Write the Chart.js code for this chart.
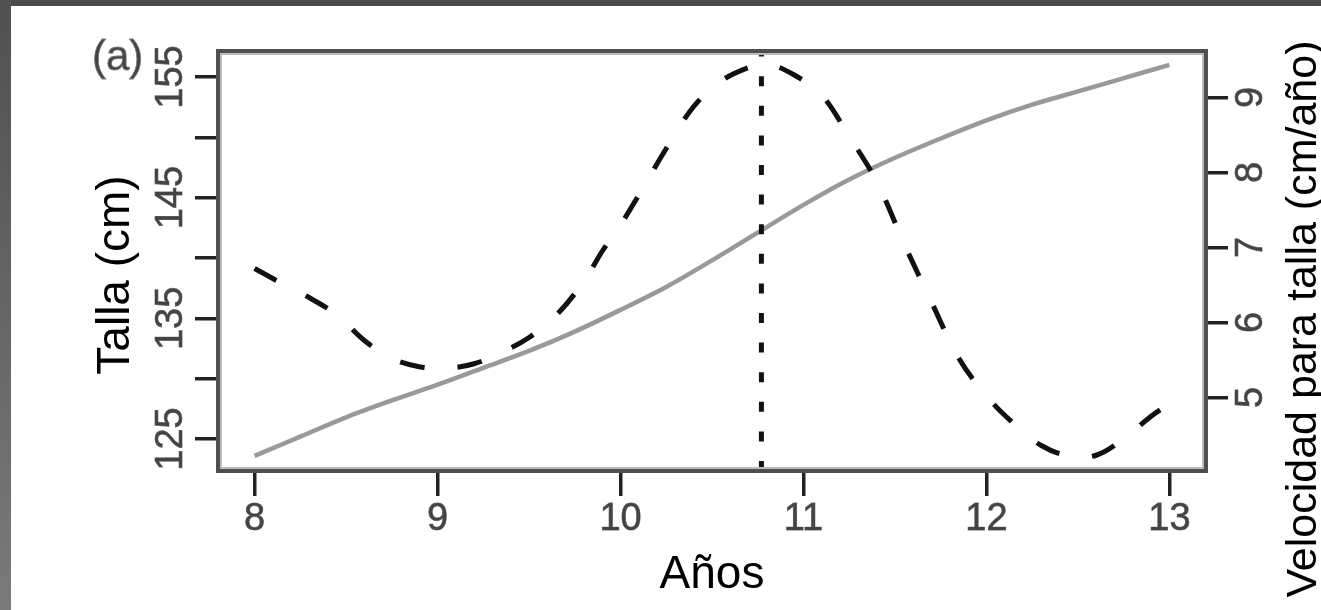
<!DOCTYPE html>
<html><head><meta charset="utf-8">
<script src="https://cdn.jsdelivr.net/npm/chart.js@4.4.1/dist/chart.umd.min.js"></script>
<style>
html,body{margin:0;padding:0;background:#fff;overflow:hidden}
canvas{display:block}
</style></head><body>
<canvas id="c" width="1321" height="610"></canvas>
<script>
// ---- data ----
const ageTicks = [8, 9, 10, 11, 12, 13];
const tallaTicks = [125, 130, 135, 140, 145, 150, 155];
const tallaTickLabels = ['125', '', '135', '', '145', '', '155'];
const velTicks = [5, 6, 7, 8, 9];
const velTickLabels = ['5', '6', '7', '8', '9'];

const tallaAge = [8.0, 8.25, 8.5, 8.75, 9.0, 9.25, 9.5, 9.75, 10.0, 10.25, 10.5, 10.75, 11.0, 11.25, 11.5, 11.75, 12.0, 12.25, 12.5, 12.75, 13.0];
const tallaCm  = [123.6, 125.2, 126.8, 128.2, 129.5, 130.9, 132.3, 133.9, 135.7, 137.6, 139.8, 142.1, 144.4, 146.5, 148.3, 149.9, 151.4, 152.7, 153.8, 154.9, 156.0];

const velAge = [8.0, 8.15, 8.3, 8.45, 8.6, 8.75, 8.9, 9.05, 9.2, 9.35, 9.5, 9.65, 9.8, 9.9, 10.0, 10.1, 10.25, 10.4, 10.55, 10.7, 10.8, 10.95, 11.1, 11.25, 11.4, 11.55, 11.7, 11.85, 12.0, 12.15, 12.3, 12.45, 12.6, 12.75, 12.9, 13.0];
const velCmYr  = [6.72, 6.52, 6.33, 6.10, 5.76, 5.52, 5.41, 5.39, 5.45, 5.60, 5.80, 6.10, 6.55, 6.95, 7.30, 7.70, 8.32, 8.88, 9.22, 9.40, 9.45, 9.30, 9.03, 8.48, 7.88, 7.05, 6.27, 5.52, 5.02, 4.65, 4.36, 4.22, 4.23, 4.45, 4.75, 4.92];

const peakAge = 10.77;
const ageRange = [7.8, 13.2];
const tallaRange = [122.35, 157.15];
const velRange = [4.02, 9.62];

const xTitle = 'Años';
const leftTitle = 'Talla (cm)';
const rightTitle = 'Velocidad para talla (cm/año)';
const panelLabel = '(a)';

// ---- chart ----
const FONT = '"Liberation Sans", Arial, Helvetica, sans-serif';
const pts = (xs, ys) => xs.map((x, i) => ({x, y: ys[i]}));

const decor = {
  id: 'decor',
  beforeDraw(chart) {
    const ctx = chart.ctx;
    ctx.save();
    ctx.fillStyle = '#fff';
    ctx.fillRect(0, 0, chart.width, chart.height);
    ctx.fillStyle = '#4b4b4b';
    ctx.fillRect(0, 0, chart.width, 6);
    const g = ctx.createLinearGradient(0, 0, 0, chart.height);
    g.addColorStop(0, '#505050');
    g.addColorStop(1, '#7a7a7a');
    ctx.fillStyle = g;
    ctx.fillRect(0, 0, 11, chart.height);
    ctx.restore();
  },
  afterDraw(chart) {
    const {ctx, chartArea: a} = chart;
    ctx.save();
    ctx.strokeStyle = '#bbb';
    ctx.lineWidth = 2;
    ctx.strokeRect(a.left + 3, a.top + 3, a.right - a.left - 6, a.bottom - a.top - 6);
    ctx.strokeStyle = '#4f4f4f';
    ctx.lineWidth = 4;
    ctx.strokeRect(a.left, a.top, a.right - a.left, a.bottom - a.top);

    ctx.fillStyle = '#000';
    ctx.textAlign = 'center';
    ctx.textBaseline = 'middle';
    ctx.font = '46px ' + FONT;
    ctx.save();
    ctx.translate(116, 275);
    ctx.rotate(-Math.PI / 2);
    ctx.fillText(leftTitle, 0, 0);
    ctx.restore();

    ctx.font = '43px ' + FONT;
    ctx.save();
    ctx.translate(1304, 319);
    ctx.rotate(-Math.PI / 2);
    ctx.fillText(rightTitle, 0, 0);
    ctx.restore();

    ctx.fillStyle = '#444';
    ctx.strokeStyle = '#777';
    ctx.lineWidth = 0.8;
    ctx.textAlign = 'left';
    ctx.font = '42px ' + FONT;
    ctx.fillText(panelLabel, 92, 58);
    ctx.strokeText(panelLabel, 92, 58);
    ctx.restore();
  }
};

const gridOpts = (tl) => ({
  display: true, drawOnChartArea: false, drawTicks: true,
  tickLength: tl, lineWidth: 3.5, color: '#222'
});
const tickFont = {family: FONT, size: 38};

new Chart(document.getElementById('c'), {
  type: 'line',
  data: {
    datasets: [
      {
        label: 'vel', data: pts(velAge, velCmYr), yAxisID: 'y2', order: 0,
        borderColor: '#111', borderWidth: 5, borderDash: [25, 33], borderCapStyle: 'butt',
        pointRadius: 0, tension: 0.35, fill: false
      },
      {
        label: 'peak', data: [{x: peakAge, y: velRange[0]}, {x: peakAge, y: velRange[1]}], yAxisID: 'y2', order: 1,
        borderColor: '#111', borderWidth: 5, borderDash: [10, 19.6], borderCapStyle: 'butt',
        pointRadius: 0, tension: 0, fill: false
      },
      {
        label: 'talla', data: pts(tallaAge, tallaCm), yAxisID: 'y', order: 2,
        borderColor: '#999', borderWidth: 4.5, pointRadius: 0, tension: 0.3, fill: false
      }
    ]
  },
  options: {
    responsive: false, animation: false, devicePixelRatio: 1,
    layout: {padding: {top: 51, left: 0, right: 0, bottom: 0}},
    plugins: {legend: {display: false}, tooltip: {enabled: false}},
    scales: {
      x: {
        type: 'linear', position: 'bottom', min: ageRange[0], max: ageRange[1],
        afterBuildTicks: s => { s.ticks = ageTicks.map(v => ({value: v})); },
        afterFit: s => { s.height = 139; },
        border: {display: false},
        grid: gridOpts(25),
        ticks: {autoSkip: false, maxRotation: 0, minRotation: 0, padding: 1, color: '#444',
                textStrokeColor: '#777', textStrokeWidth: 0.8,
                font: tickFont, callback: v => String(v)},
        title: {display: true, text: xTitle, color: '#000', font: {family: FONT, size: 46},
                padding: {top: 0, bottom: 7}}
      },
      y: {
        type: 'linear', position: 'left', min: tallaRange[0], max: tallaRange[1],
        afterBuildTicks: s => { s.ticks = tallaTicks.map(v => ({value: v})); },
        afterFit: s => { s.width = 218; },
        border: {display: false},
        grid: gridOpts(23),
        ticks: {autoSkip: false, minRotation: 90, maxRotation: 90, crossAlign: 'center', padding: -8.7,
                color: '#444', textStrokeColor: '#777', textStrokeWidth: 0.8, font: tickFont,
                callback: (v) => { const i = tallaTicks.indexOf(v); return i >= 0 ? tallaTickLabels[i] : ''; }}
      },
      y2: {
        type: 'linear', position: 'right', min: velRange[0], max: velRange[1],
        afterBuildTicks: s => { s.ticks = velTicks.map(v => ({value: v})); },
        afterFit: s => { s.width = 115; },
        border: {display: false},
        grid: gridOpts(22),
        ticks: {autoSkip: false, minRotation: 90, maxRotation: 90, crossAlign: 'center', padding: 13.4,
                color: '#444', textStrokeColor: '#777', textStrokeWidth: 0.8, font: tickFont,
                callback: (v) => { const i = velTicks.indexOf(v); return i >= 0 ? velTickLabels[i] : ''; }}
      }
    }
  },
  plugins: [decor]
});
</script>
</body></html>
